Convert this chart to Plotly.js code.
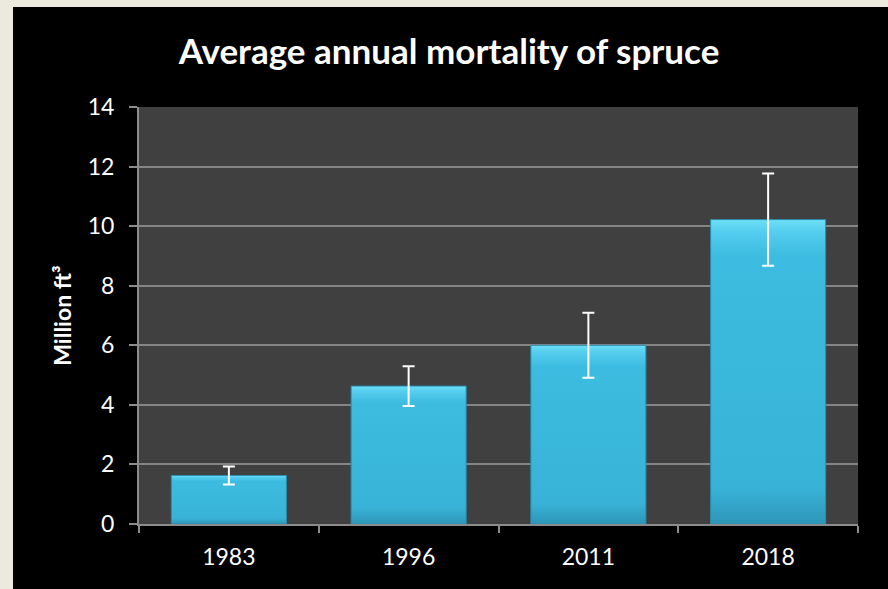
<!DOCTYPE html>
<html>
<head>
<meta charset="utf-8">
<script src="https://cdn.plot.ly/plotly-3.0.1.min.js"></script>
<style>
  html, body { margin: 0; padding: 0; background: #ECE9DF; width: 888px; height: 589px; overflow: hidden; }
  #chart { position: absolute; left: 13px; top: 7px; width: 875px; height: 582px; }
</style>
</head>
<body>
<div id="chart"></div>
<script>
const years = ['1983', '1996', '2011', '2018'];
const mortality = [1.63, 4.63, 6.0, 10.22];
const errors = [0.30, 0.67, 1.09, 1.55];
const yTicks = [0, 2, 4, 6, 8, 10, 12, 14];

const trace = {
  type: 'bar',
  x: years,
  y: mortality,
  width: 0.64,
  marker: { color: '#3BB9DD', line: { color: '#2A8DAE', width: 1 } },
  error_y: { type: 'data', array: errors, visible: true, color: '#FFFFFF', thickness: 2, width: 6 },
  hoverinfo: 'none'
};

const layout = {
  width: 875, height: 582,
  paper_bgcolor: '#000000',
  plot_bgcolor: '#404040',
  margin: { l: 126, r: 30, t: 100, b: 65 },
  showlegend: false,
  title: {
    text: '<b>Average annual mortality of spruce</b>',
    font: { family: 'Lato, sans-serif', size: 35, color: '#FFFFFF' },
    x: 436 / 875, xanchor: 'center', xref: 'container',
    y: 1 - 45 / 582, yanchor: 'middle', yref: 'container'
  },
  xaxis: {
    type: 'category',
    tickson: 'boundaries',
    ticks: 'outside', ticklen: 7, tickwidth: 2, tickcolor: '#8C8C8C',
    showline: true, linecolor: '#8C8C8C', linewidth: 2,
    showgrid: false,
    tickfont: { family: 'Lato, sans-serif', size: 23, color: '#FFFFFF' },
    ticklabelstandoff: 11
  },
  yaxis: {
    range: [0, 14],
    tickvals: yTicks,
    ticktext: yTicks.map(String),
    ticks: 'outside', ticklen: 8, tickwidth: 2, tickcolor: '#8C8C8C',
    showline: true, linecolor: '#8C8C8C', linewidth: 2,
    showgrid: true, gridcolor: '#858585', gridwidth: 2,
    zeroline: false,
    tickfont: { family: 'Lato, sans-serif', size: 23, color: '#FFFFFF' },
    ticklabelstandoff: 10,
    title: {
      text: '<b>Million ft³</b>',
      font: { family: 'Lato, sans-serif', size: 23, color: '#FFFFFF' },
      standoff: 10
    }
  }
};

Plotly.newPlot('chart', [trace], layout, { displayModeBar: false, staticPlot: true }).then(function (gd) {
  const svg = gd.querySelector('svg.main-svg');
  const ns = 'http://www.w3.org/2000/svg';
  let defs = svg.querySelector('defs');
  if (!defs) { defs = document.createElementNS(ns, 'defs'); svg.insertBefore(defs, svg.firstChild); }
  const grad = document.createElementNS(ns, 'linearGradient');
  grad.setAttribute('id', 'barGrad');
  grad.setAttribute('x1', '0'); grad.setAttribute('y1', '0');
  grad.setAttribute('x2', '0'); grad.setAttribute('y2', '1');
  [['0', '#6EE0F8'], ['0.04', '#55CDEE'], ['0.12', '#3CBCE0'], ['0.88', '#38B3D7'], ['1', '#2E96B8']].forEach(function (s) {
    const st = document.createElementNS(ns, 'stop');
    st.setAttribute('offset', s[0]); st.setAttribute('stop-color', s[1]);
    grad.appendChild(st);
  });
  defs.appendChild(grad);
  gd.querySelectorAll('.bars .point path').forEach(function (p) {
    p.style.fill = 'url(#barGrad)';
  });
});
</script>
</body>
</html>
